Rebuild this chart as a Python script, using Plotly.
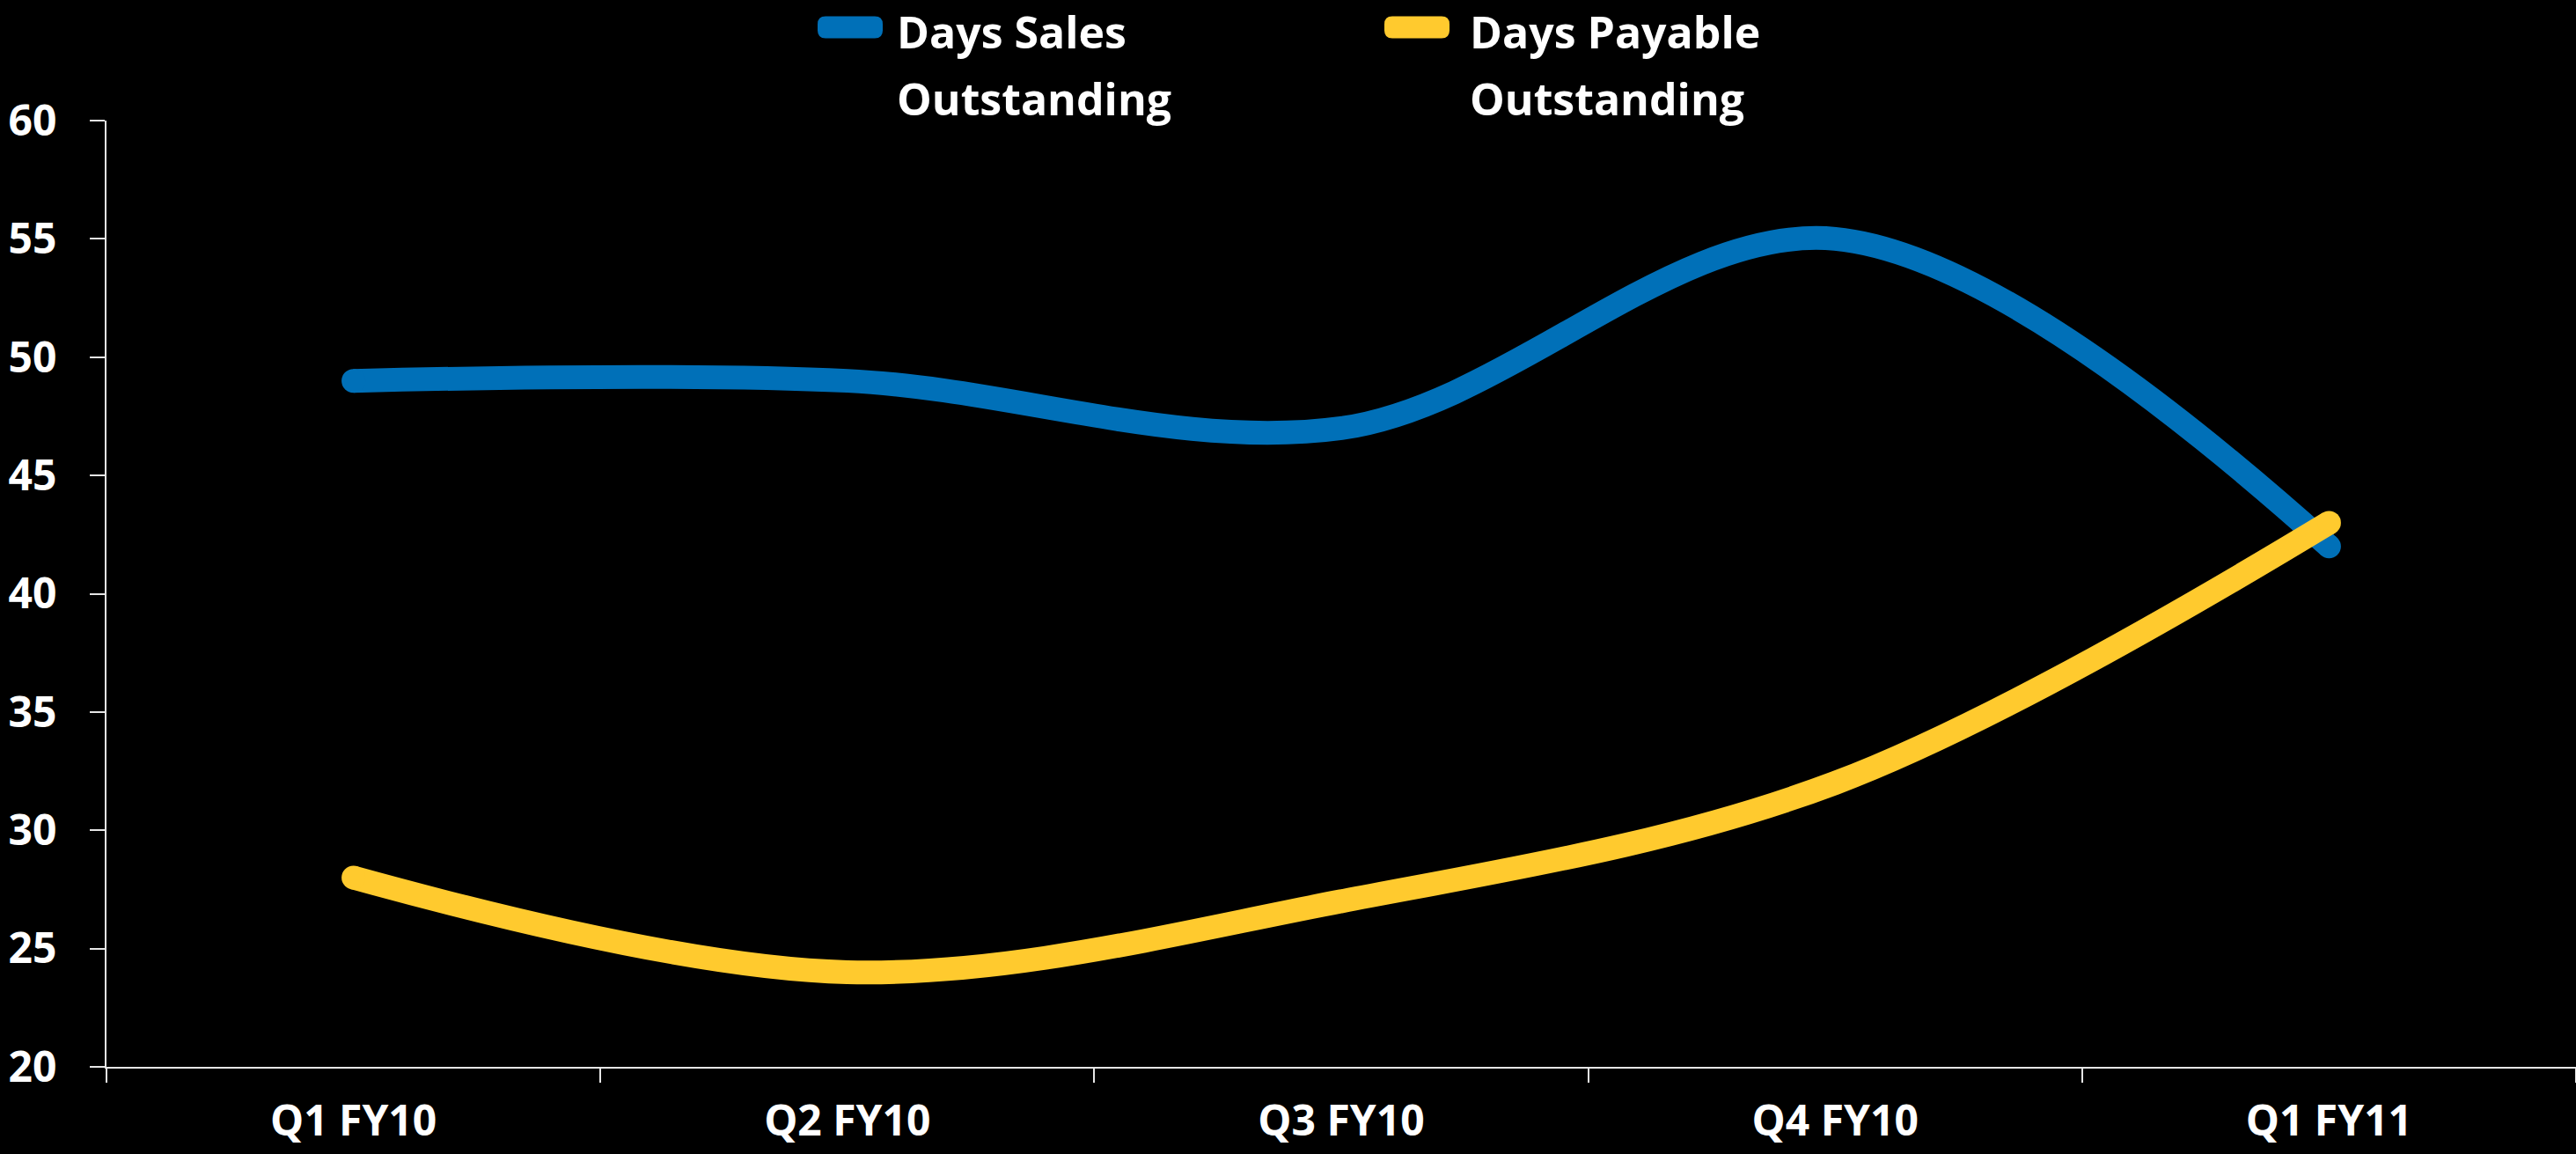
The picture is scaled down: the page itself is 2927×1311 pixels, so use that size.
import plotly.graph_objects as go

# Quarterly working-capital metrics (days)
quarters = ["Q1 FY10", "Q2 FY10", "Q3 FY10", "Q4 FY10", "Q1 FY11"]
dso_days = [49, 49, 47, 55, 42]
dpo_days = [28, 24, 27, 32, 43]
y_ticks = [20, 25, 30, 35, 40, 45, 50, 55, 60]
series_names = [["Days Sales", "Outstanding"], ["Days Payable", "Outstanding"]]

BLUE = "#0070B8"
YELLOW = "#FFCA2E"
LINE_W = 27
FONT = "Open Sans"

W, H = 2927, 1311
M_L, M_R, M_T, M_B = 121, 0, 137, 99
PLOT_W = W - M_L - M_R
PLOT_H = H - M_T - M_B


def px_x(px):
    """page pixel x -> paper coordinate"""
    return (px - M_L) / PLOT_W


def px_y(py):
    """page pixel y (from top) -> paper coordinate"""
    return (H - M_B - py) / PLOT_H


fig = go.Figure()


def add_series(values, color):
    # smoothed line
    fig.add_trace(go.Scatter(
        x=quarters, y=values, mode="lines", showlegend=False,
        line=dict(color=color, width=LINE_W, shape="spline", smoothing=1),
        hoverinfo="skip",
    ))
    # round caps at both ends of the line
    fig.add_trace(go.Scatter(
        x=[quarters[0], quarters[-1]], y=[values[0], values[-1]],
        mode="markers", showlegend=False, hoverinfo="skip",
        marker=dict(color=color, size=LINE_W, line=dict(width=0)),
    ))


add_series(dso_days, BLUE)
add_series(dpo_days, YELLOW)

# Key at the top: rounded swatch + two-line label for each series
SWATCH = ("M -28,-12.5 L 28,-12.5 Q 37,-12.5 37,-3.5 L 37,3.5 Q 37,12.5 28,12.5 "
          "L -28,12.5 Q -37,12.5 -37,3.5 L -37,-3.5 Q -37,-12.5 -28,-12.5 Z")
key_items = [(966, 1018, BLUE), (1610, 1669, YELLOW)]
for (sw_x, txt_x, color), lines in zip(key_items, series_names):
    fig.add_shape(
        type="path", path=SWATCH, xref="paper", yref="paper",
        xsizemode="pixel", ysizemode="pixel",
        xanchor=px_x(sw_x), yanchor=px_y(31),
        fillcolor=color, line=dict(width=0),
    )
    for line_txt, ty in zip(lines, (36, 112)):
        fig.add_annotation(
            text=line_txt, xref="paper", yref="paper",
            x=px_x(txt_x), y=px_y(ty), xanchor="left", yanchor="middle",
            showarrow=False, align="left", borderpad=0,
            font=dict(family=FONT, color="white", size=50, weight=700),
        )

fig.update_layout(
    width=W, height=H,
    paper_bgcolor="black", plot_bgcolor="black",
    margin=dict(l=M_L, r=M_R, t=M_T, b=M_B, autoexpand=False),
    font=dict(family=FONT, color="white", size=50, weight=700),
    showlegend=False,
    xaxis=dict(
        type="category", range=[-0.5, 4.5],
        showline=True, linecolor="#e6e6e6", linewidth=2,
        ticks="outside", tickson="boundaries", ticklen=16, tickwidth=2,
        tickcolor="#e6e6e6", showgrid=False, zeroline=False,
        tickfont=dict(family=FONT, color="white", size=48, weight=700),
        ticklabelstandoff=18,
    ),
    yaxis=dict(
        range=[20, 60], tickvals=y_ticks,
        showline=True, linecolor="#e6e6e6", linewidth=2,
        ticks="outside", ticklen=17, tickwidth=2, tickcolor="#e6e6e6",
        showgrid=False, zeroline=False,
        tickfont=dict(family=FONT, color="white", size=48, weight=700),
        ticklabelstandoff=28,
    ),
)

fig.write_html("out.html")
